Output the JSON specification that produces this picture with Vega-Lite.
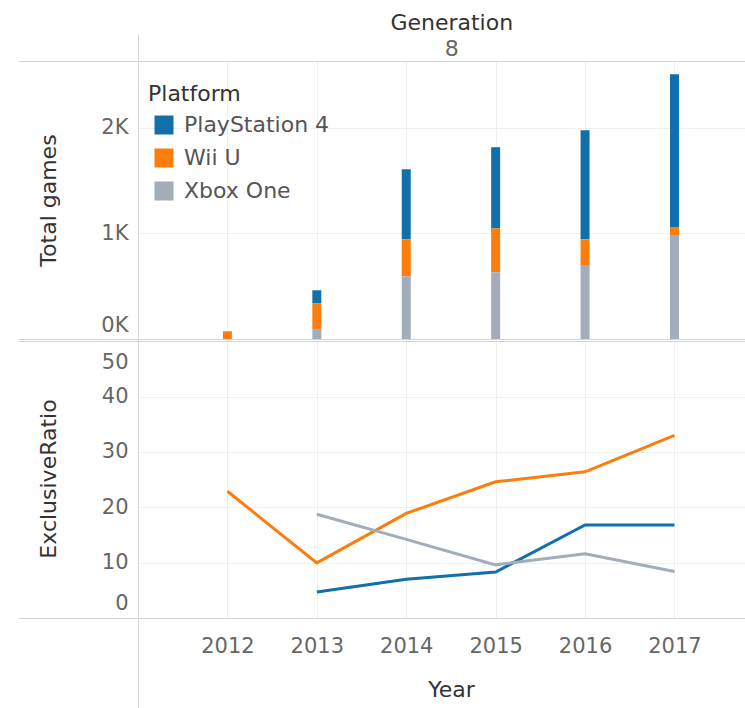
{
  "$schema": "https://vega.github.io/schema/vega-lite/v6.json",
  "padding": {"left": 17, "top": 11, "right": 0, "bottom": 0},
  "spacing": 0,
  "bounds": "flush",
  "title": {"text": "Generation", "subtitle": "8", "anchor": "middle", "dx": 70, "fontSize": 22, "subtitleFontSize": 22, "color": "#333333", "subtitleColor": "#666666", "fontWeight": "normal", "font": "DejaVu Sans", "subtitleFont": "DejaVu Sans", "offset": -27, "subtitlePadding": 4},
  "datasets": {
    "games": [
      {"Year": 2012, "Platform": "Wii U", "Games": 73},
      {"Year": 2013, "Platform": "PlayStation 4", "Games": 123},
      {"Year": 2013, "Platform": "Wii U", "Games": 243},
      {"Year": 2013, "Platform": "Xbox One", "Games": 95},
      {"Year": 2014, "Platform": "PlayStation 4", "Games": 663},
      {"Year": 2014, "Platform": "Wii U", "Games": 350},
      {"Year": 2014, "Platform": "Xbox One", "Games": 593},
      {"Year": 2015, "Platform": "PlayStation 4", "Games": 767},
      {"Year": 2015, "Platform": "Wii U", "Games": 416},
      {"Year": 2015, "Platform": "Xbox One", "Games": 631},
      {"Year": 2016, "Platform": "PlayStation 4", "Games": 1031},
      {"Year": 2016, "Platform": "Wii U", "Games": 243},
      {"Year": 2016, "Platform": "Xbox One", "Games": 700},
      {"Year": 2017, "Platform": "PlayStation 4", "Games": 1444},
      {"Year": 2017, "Platform": "Wii U", "Games": 76},
      {"Year": 2017, "Platform": "Xbox One", "Games": 984}
    ],
    "ratio": [
      {"Year": 2013, "Platform": "PlayStation 4", "ExclusiveRatio": 4.7},
      {"Year": 2014, "Platform": "PlayStation 4", "ExclusiveRatio": 7.0},
      {"Year": 2015, "Platform": "PlayStation 4", "ExclusiveRatio": 8.3},
      {"Year": 2016, "Platform": "PlayStation 4", "ExclusiveRatio": 16.8},
      {"Year": 2017, "Platform": "PlayStation 4", "ExclusiveRatio": 16.8},
      {"Year": 2012, "Platform": "Wii U", "ExclusiveRatio": 22.9},
      {"Year": 2013, "Platform": "Wii U", "ExclusiveRatio": 9.95},
      {"Year": 2014, "Platform": "Wii U", "ExclusiveRatio": 18.9},
      {"Year": 2015, "Platform": "Wii U", "ExclusiveRatio": 24.6},
      {"Year": 2016, "Platform": "Wii U", "ExclusiveRatio": 26.4},
      {"Year": 2017, "Platform": "Wii U", "ExclusiveRatio": 33.0},
      {"Year": 2013, "Platform": "Xbox One", "ExclusiveRatio": 18.75},
      {"Year": 2014, "Platform": "Xbox One", "ExclusiveRatio": 14.2},
      {"Year": 2015, "Platform": "Xbox One", "ExclusiveRatio": 9.6},
      {"Year": 2016, "Platform": "Xbox One", "ExclusiveRatio": 11.6},
      {"Year": 2017, "Platform": "Xbox One", "ExclusiveRatio": 8.4}
    ]
  },
  "resolve": {"legend": {"color": "independent"}},
  "vconcat": [
    {
      "width": 608,
      "height": 278,
      "data": {"name": "games"},
      "mark": {"type": "bar", "size": 9},
      "encoding": {
        "x": {
          "field": "Year", "type": "quantitative",
          "scale": {"domain": [2011, 2017.8], "nice": false, "zero": false, "padding": 0},
          "axis": {
            "orient": "top", "title": null, "labels": false,
            "values": [2011, 2012, 2013, 2014, 2015, 2016, 2017],
            "ticks": true, "tickColor": "#d4d4d4", "domainColor": "#d4d4d4",
            "tickSize": {"condition": {"test": "datum.value === 2011", "value": 27}, "value": 0}
          }
        },
        "y": {
          "field": "Games", "type": "quantitative", "stack": "zero",
          "scale": {"domain": [0, 2630], "nice": false},
          "axis": {
            "title": "Total games",
            "titleX": -90, "titleY": 139, "titleAngle": -90, "titleAlign": "center", "titleBaseline": "middle",
            "values": [0, 1000, 2000, 2630],
            "labelExpr": "datum.value > 2500 ? '' : (datum.value / 1000) + 'K'",
            "ticks": true,
            "tickSize": {"condition": {"test": "datum.value === 0 || datum.value > 2500", "value": 120}, "value": 0},
            "labelPadding": {"condition": {"test": "datum.value === 0 || datum.value > 2500", "value": -110}, "value": 10},
            "labelOffset": {"condition": {"test": "datum.value === 0", "value": -14}, "value": 0},
            "gridColor": {"condition": {"test": "datum.value === 0 || datum.value > 2500", "value": "#d4d4d4"}, "value": "#efefef"}
          }
        },
        "color": {
          "field": "Platform", "type": "nominal",
          "scale": {"domain": ["PlayStation 4", "Wii U", "Xbox One"], "range": ["#1170aa", "#fc7d0b", "#a3acb9"]},
          "legend": {
            "orient": "none", "legendX": 10, "legendY": 23, "title": "Platform",
            "titleFontSize": 22, "titleColor": "#333333", "titleFontWeight": "normal", "titlePadding": 8,
            "labelFontSize": 22, "labelColor": "#555555", "labelOffset": 9,
            "symbolType": "square", "symbolSize": 361, "symbolStrokeWidth": 0, "symbolOpacity": 1, "symbolOffset": 5,
            "rowPadding": 11
          }
        },
        "order": {"field": "Platform", "sort": "descending"}
      }
    },
    {
      "width": 608,
      "height": 279,
      "data": {"name": "ratio"},
      "mark": {"type": "line", "strokeWidth": 3},
      "encoding": {
        "x": {
          "field": "Year", "type": "quantitative",
          "scale": {"domain": [2011, 2017.8], "nice": false, "zero": false, "padding": 0},
          "axis": {
            "orient": "bottom", "title": "Year",
            "titleX": 313, "titleY": 71, "titleBaseline": "middle", "titleAlign": "center",
            "values": [2011, 2012, 2013, 2014, 2015, 2016, 2017],
            "format": "d",
            "labelExpr": "datum.value === 2011 ? '' : datum.label",
            "ticks": true,
            "tickSize": {"condition": {"test": "datum.value === 2011", "value": 91}, "value": 0},
            "labelBaseline": "middle",
            "labelPadding": 28
          }
        },
        "y": {
          "field": "ExclusiveRatio", "type": "quantitative",
          "scale": {"domain": [0, 50.4], "nice": false},
          "axis": {
            "title": "ExclusiveRatio",
            "titleX": -90, "titleY": 139.5, "titleAngle": -90, "titleAlign": "center", "titleBaseline": "middle",
            "values": [0, 10, 20, 30, 40, 50],
            "ticks": true,
            "tickSize": {"condition": {"test": "datum.value === 0 || datum.value === 50", "value": 120}, "value": 0},
            "labelPadding": {"condition": {"test": "datum.value === 0 || datum.value === 50", "value": -110}, "value": 10},
            "labelOffset": {"condition": [{"test": "datum.value === 0", "value": -15}, {"test": "datum.value === 50", "value": 21}], "value": 0},
            "gridColor": {"condition": {"test": "datum.value === 0 || datum.value === 50", "value": "#d4d4d4"}, "value": "#efefef"}
          }
        },
        "color": {
          "field": "Platform", "type": "nominal",
          "scale": {"domain": ["PlayStation 4", "Wii U", "Xbox One"], "range": ["#1170aa", "#fc7d0b", "#a3acb9"]},
          "legend": null
        }
      }
    }
  ],
  "config": {
    "font": "DejaVu Sans",
    "view": {"stroke": null},
    "axis": {
      "labelFontSize": 21, "labelColor": "#666666",
      "titleFontSize": 22, "titleColor": "#333333", "titleFontWeight": "normal",
      "domainColor": "#d4d4d4", "tickColor": "#d4d4d4", "gridColor": "#efefef", "grid": true
    }
  }
}
